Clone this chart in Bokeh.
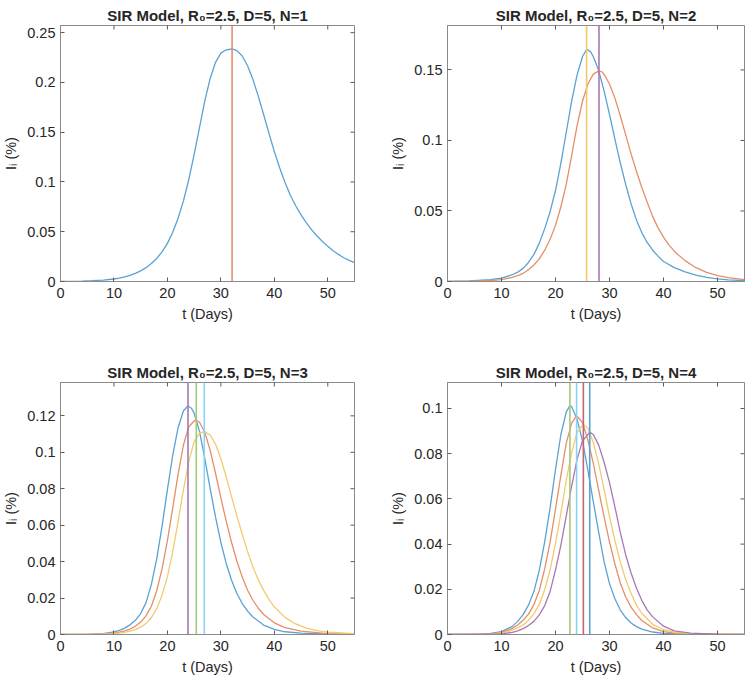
import math
from bokeh.plotting import figure
from bokeh.layouts import column, row
from bokeh.models import Span, FixedTicker, Range1d
from bokeh.embed import file_html
from bokeh.resources import INLINE

# ---------------- data ----------------
x_ticks = [0, 10, 20, 30, 40, 50]
x_max = 55

# N = 1
n1_i1_t = [0, 2, 4, 6, 8, 10, 11, 12, 13, 14, 15, 16, 17, 18, 19, 20, 21, 22, 23, 24, 25, 26, 27,
           28, 29, 30, 31, 32.1, 33, 34, 35, 36, 37, 38, 39, 40, 41, 42, 43, 44, 45, 46, 47, 48,
           49, 50, 51, 52, 53, 54, 55]
n1_i1_v = [0.0001, 0.0002, 0.0004, 0.0008, 0.0014, 0.0025, 0.0034, 0.0046, 0.0062, 0.0082,
           0.0107, 0.0139, 0.018, 0.0232, 0.0298, 0.0383, 0.0495, 0.0635, 0.081, 0.1025, 0.1275,
           0.1547, 0.1815, 0.204, 0.2202, 0.2294, 0.2328, 0.2336, 0.232, 0.2265, 0.2167, 0.2029,
           0.1862, 0.1678, 0.1488, 0.1306, 0.1143, 0.0994, 0.0867, 0.0761, 0.0669, 0.0589,
           0.0519, 0.0457, 0.0402, 0.0353, 0.0309, 0.0272, 0.0239, 0.0212, 0.0189]
n1_peak_t = [32.1]
n1_y_max = 0.2572
n1_y_ticks = [0, 0.05, 0.1, 0.15, 0.2, 0.25]
n1_y_labels = ["0", "0.05", "0.1", "0.15", "0.2", "0.25"]

# N = 2
n2_i1_t = [0, 4, 8, 10, 12, 13, 14, 15, 16, 17, 18, 19, 20, 21, 22, 23, 24, 25, 25.8, 26.5, 27,
           28, 29, 30, 31, 32, 33, 34, 35, 36, 37, 38, 39, 40, 42, 44, 46, 48, 50, 52, 55]
n2_i1_v = [0.0001, 0.0004, 0.0013, 0.0024, 0.0048, 0.0066, 0.0093, 0.0135, 0.0192, 0.0272,
           0.0375, 0.0495, 0.0645, 0.084, 0.106, 0.128, 0.1465, 0.1595, 0.1647, 0.1628, 0.1595,
           0.1495, 0.135, 0.1185, 0.101, 0.084, 0.0688, 0.055, 0.0435, 0.0345, 0.0275, 0.0222,
           0.018, 0.0142, 0.0098, 0.0068, 0.0046, 0.003, 0.0019, 0.0012, 0.0006]
n2_i2_t = [0, 4, 8, 10, 12, 13, 14, 15, 16, 17, 18, 19, 20, 21, 22, 23, 24, 25, 26, 27, 28.05,
           28.6, 29, 30, 31, 32, 33, 34, 35, 36, 37, 38, 39, 40, 41, 42, 43, 44, 46, 48, 50, 52,
           55]
n2_i2_v = [0.00005, 0.0002, 0.0007, 0.0014, 0.0029, 0.0041, 0.0058, 0.0083, 0.0117, 0.016,
           0.0222, 0.03, 0.0398, 0.053, 0.069, 0.0895, 0.1105, 0.1278, 0.14, 0.147, 0.1493,
           0.1487, 0.1468, 0.14, 0.13, 0.1175, 0.104, 0.0905, 0.078, 0.0665, 0.056, 0.046, 0.038,
           0.0315, 0.026, 0.0215, 0.018, 0.0148, 0.0098, 0.0065, 0.0042, 0.0027, 0.0013]
n2_peak_t = [25.76, 28.05]
n2_y_max = 0.1815
n2_y_ticks = [0, 0.05, 0.1, 0.15]
n2_y_labels = ["0", "0.05", "0.1", "0.15"]

# N = 3
n3_i1_t = [0, 5, 8, 10, 11, 12, 13, 14, 15, 16, 17, 18, 19, 20, 21, 22, 23, 23.85, 24.5, 25, 26,
           27, 28, 29, 30, 31, 32, 33, 34, 35, 36, 38, 40, 42, 45, 50, 55]
n3_i1_v = [0.0, 0.0001, 0.0005, 0.0015, 0.0023, 0.0035, 0.0053, 0.0078, 0.0115, 0.0175, 0.0275,
           0.0415, 0.0595, 0.0795, 0.0985, 0.1135, 0.1228, 0.1254, 0.1242, 0.1215, 0.1115,
           0.0965, 0.08, 0.0645, 0.0505, 0.039, 0.0298, 0.0225, 0.017, 0.0128, 0.0096, 0.0052,
           0.0028, 0.0015, 0.0007, 0.0002, 0.0]
n3_i2_t = [0, 5, 8, 10, 11, 12, 13, 14, 15, 16, 17, 18, 19, 20, 21, 22, 23, 24, 25, 25.4, 26, 27,
           28, 29, 30, 31, 32, 33, 34, 35, 36, 37, 38, 40, 42, 45, 50, 55]
n3_i2_v = [0.0, 0.0001, 0.0003, 0.0008, 0.0013, 0.002, 0.003, 0.0045, 0.0068, 0.0102, 0.0155,
           0.024, 0.036, 0.0515, 0.0695, 0.088, 0.104, 0.114, 0.1172, 0.1176, 0.1165, 0.111,
           0.101, 0.0885, 0.075, 0.0622, 0.0505, 0.0402, 0.0315, 0.0243, 0.0188, 0.0144, 0.011,
           0.0064, 0.0038, 0.0018, 0.0005, 0.0002]
n3_i3_t = [0, 8, 10, 11, 12, 13, 14, 15, 16, 17, 18, 19, 20, 21, 22, 23, 24, 25, 26, 27, 28, 29,
           30, 31, 32, 33, 34, 35, 36, 37, 38, 39, 40, 42, 44, 46, 48, 50, 55]
n3_i3_v = [0.0, 0.0002, 0.0005, 0.0008, 0.0012, 0.0018, 0.0027, 0.004, 0.006, 0.0092, 0.0142,
           0.0215, 0.0318, 0.0455, 0.062, 0.0795, 0.095, 0.1057, 0.1105, 0.1113, 0.1095, 0.1045,
           0.0965, 0.0865, 0.0757, 0.065, 0.055, 0.0455, 0.037, 0.03, 0.0242, 0.0193, 0.0152,
           0.0094, 0.0058, 0.0035, 0.0021, 0.0013, 0.0004]
n3_peak_t = [23.85, 25.4, 26.9]
n3_y_max = 0.1383
n3_y_ticks = [0, 0.02, 0.04, 0.06, 0.08, 0.1, 0.12]
n3_y_labels = ["0", "0.02", "0.04", "0.06", "0.08", "0.1", "0.12"]

# N = 4
n4_i1_t = [0, 5, 8, 10, 12, 13, 14, 15, 16, 17, 18, 19, 20, 21, 22, 22.67, 23, 24, 25, 26, 27,
           28, 29, 30, 31, 32, 33, 34, 35, 36, 38, 40, 45, 55]
n4_i1_v = [0.0, 0.0001, 0.0005, 0.0013, 0.0036, 0.0058, 0.0088, 0.013, 0.019, 0.0285, 0.041,
           0.056, 0.073, 0.0885, 0.0985, 0.1013, 0.1008, 0.0952, 0.0857, 0.0727, 0.0588, 0.0452,
           0.0322, 0.0225, 0.0158, 0.0108, 0.0075, 0.0051, 0.0035, 0.0024, 0.0011, 0.0005,
           0.0001, 0.0]
n4_i2_t = [0, 5, 8, 10, 11, 12, 13, 14, 15, 16, 17, 18, 19, 20, 21, 22, 23, 23.91, 25, 26, 27,
           28, 29, 30, 31, 32, 33, 34, 35, 36, 38, 40, 42, 45, 55]
n4_i2_v = [0.0, 0.0001, 0.0003, 0.0009, 0.0017, 0.0027, 0.0042, 0.0063, 0.009, 0.0132, 0.0195,
           0.029, 0.0408, 0.0555, 0.0705, 0.0848, 0.0935, 0.0968, 0.0938, 0.086, 0.0757, 0.0638,
           0.052, 0.041, 0.0312, 0.0228, 0.0166, 0.0121, 0.0088, 0.0062, 0.0029, 0.0013, 0.0006,
           0.0002, 0.0]
n4_i3_t = [0, 8, 10, 11, 12, 13, 14, 15, 16, 17, 18, 19, 20, 21, 22, 23, 24, 25.16, 26, 27, 28,
           29, 30, 31, 32, 33, 34, 35, 36, 38, 40, 42, 45, 55]
n4_i3_v = [0.0, 0.0002, 0.0007, 0.0012, 0.0019, 0.0029, 0.0042, 0.0063, 0.0091, 0.0133, 0.0198,
           0.0286, 0.0402, 0.0537, 0.0683, 0.0806, 0.0895, 0.093, 0.0912, 0.085, 0.0755, 0.0642,
           0.0522, 0.0415, 0.0322, 0.0243, 0.0181, 0.013, 0.0093, 0.0045, 0.0021, 0.001, 0.0004,
           0.0]
n4_i4_t = [0, 8, 10, 11, 12, 13, 14, 15, 16, 17, 18, 19, 20, 21, 22, 23, 24, 25, 26.37, 27, 28,
           29, 30, 31, 32, 33, 34, 35, 36, 37, 38, 40, 42, 45, 50, 55]
n4_i4_v = [0.0, 0.0001, 0.0003, 0.0006, 0.0009, 0.0016, 0.0026, 0.004, 0.0058, 0.0087, 0.0128,
           0.019, 0.0286, 0.0395, 0.0526, 0.0658, 0.0775, 0.0857, 0.0895, 0.0885, 0.0838, 0.0762,
           0.0672, 0.0565, 0.0452, 0.0352, 0.0272, 0.0205, 0.015, 0.0108, 0.0078, 0.0037, 0.0016,
           0.0006, 0.0001, 0.0]
n4_peak_t = [22.67, 23.91, 25.16, 26.34]
n4_y_max = 0.1115
n4_y_ticks = [0, 0.02, 0.04, 0.06, 0.08, 0.1]
n4_y_labels = ["0", "0.02", "0.04", "0.06", "0.08", "0.1"]

titles = ["SIR Model, R\u2080=2.5, D=5, N=1", "SIR Model, R\u2080=2.5, D=5, N=2",
          "SIR Model, R\u2080=2.5, D=5, N=3", "SIR Model, R\u2080=2.5, D=5, N=4"]
x_label = "t (Days)"
y_label = "I\u1d62 (%)"

# MATLAB default colour order (as it appears, slightly washed out)
palette = ["#5aa2d3", "#e68e68", "#f1ca6c", "#a877b3", "#a6c879", "#8bd3f2", "#c26577"]

FONT = "Liberation Sans"
TXT = "#262626"
BOX = "#8a8a8a"
TICK = "#5a5a5a"


def make_panel(title, curves, peaks, y_max, y_ticks, y_labels, width, height, borders):
    left, right, top, bottom = borders
    p = figure(width=width, height=height, output_backend="svg", toolbar_location=None,
               x_range=Range1d(0, x_max), y_range=Range1d(0, y_max),
               min_border_left=left, min_border_right=right,
               min_border_top=top, min_border_bottom=bottom)
    p.background_fill_color = "white"
    p.border_fill_color = "white"
    p.outline_line_color = BOX
    p.outline_line_width = 1
    p.xgrid.visible = False
    p.ygrid.visible = False

    p.title.text = title
    p.title.align = "center"
    p.title.text_font = FONT
    p.title.text_font_size = "15px"
    p.title.text_font_style = "bold"
    p.title.text_color = TXT
    p.title.standoff = 4

    for ax, ticks in ((p.xaxis[0], x_ticks), (p.yaxis[0], y_ticks)):
        ax.ticker = FixedTicker(ticks=ticks)
        ax.major_tick_in = 4
        ax.major_tick_out = 0
        ax.minor_tick_in = 0
        ax.minor_tick_out = 0
        ax.major_tick_line_color = TICK
        ax.axis_line_color = BOX
        ax.major_label_text_font = FONT
        ax.major_label_text_font_size = "14.5px"
        ax.major_label_text_color = TXT
        ax.axis_label_text_font = FONT
        ax.axis_label_text_font_size = "14.5px"
        ax.axis_label_text_font_style = "normal"
        ax.axis_label_text_color = TXT
    p.xaxis.axis_label = x_label
    p.yaxis.axis_label = y_label
    p.xaxis.major_label_standoff = 6
    p.xaxis.axis_label_standoff = 5
    p.yaxis.major_label_standoff = 5
    p.yaxis.axis_label_standoff = 5
    p.yaxis.major_label_overrides = {float(k): v for k, v in zip(y_ticks, y_labels)}

    # mirrored inward ticks on the top and right edges of the box
    p.scatter(x_ticks, [y_max] * len(x_ticks), marker="dash", size=8, angle=math.pi / 2,
              line_color=TICK, line_width=1)
    p.scatter([x_max] * len(y_ticks), y_ticks, marker="dash", size=8,
              line_color=TICK, line_width=1)

    for i, (t, v) in enumerate(curves):
        p.line(t, v, line_color=palette[i % 7], line_width=1.3)
    n = len(curves)
    for j, pk in enumerate(peaks):
        p.add_layout(Span(location=pk, dimension="height",
                          line_color=palette[(n + j) % 7], line_width=1.6))
    return p


W1, W2, H1, H2 = 373, 373, 340, 340
p1 = make_panel(titles[0], [(n1_i1_t, n1_i1_v)], n1_peak_t, n1_y_max, n1_y_ticks, n1_y_labels,
                W1, H1, (58, 19, 25, 59))
p2 = make_panel(titles[1], [(n2_i1_t, n2_i1_v), (n2_i2_t, n2_i2_v)], n2_peak_t, n2_y_max,
                n2_y_ticks, n2_y_labels, W2, H1, (74, 2, 25, 59))
p3 = make_panel(titles[2], [(n3_i1_t, n3_i1_v), (n3_i2_t, n3_i2_v), (n3_i3_t, n3_i3_v)],
                n3_peak_t, n3_y_max, n3_y_ticks, n3_y_labels, W1, H2, (58, 19, 42, 46))
p4 = make_panel(titles[3], [(n4_i1_t, n4_i1_v), (n4_i2_t, n4_i2_v), (n4_i3_t, n4_i3_v),
                            (n4_i4_t, n4_i4_v)],
                n4_peak_t, n4_y_max, n4_y_ticks, n4_y_labels, W2, H2, (74, 2, 42, 46))

layout = column(row(p1, p2), row(p3, p4))
open("out.html", "w").write(file_html(layout, INLINE))
